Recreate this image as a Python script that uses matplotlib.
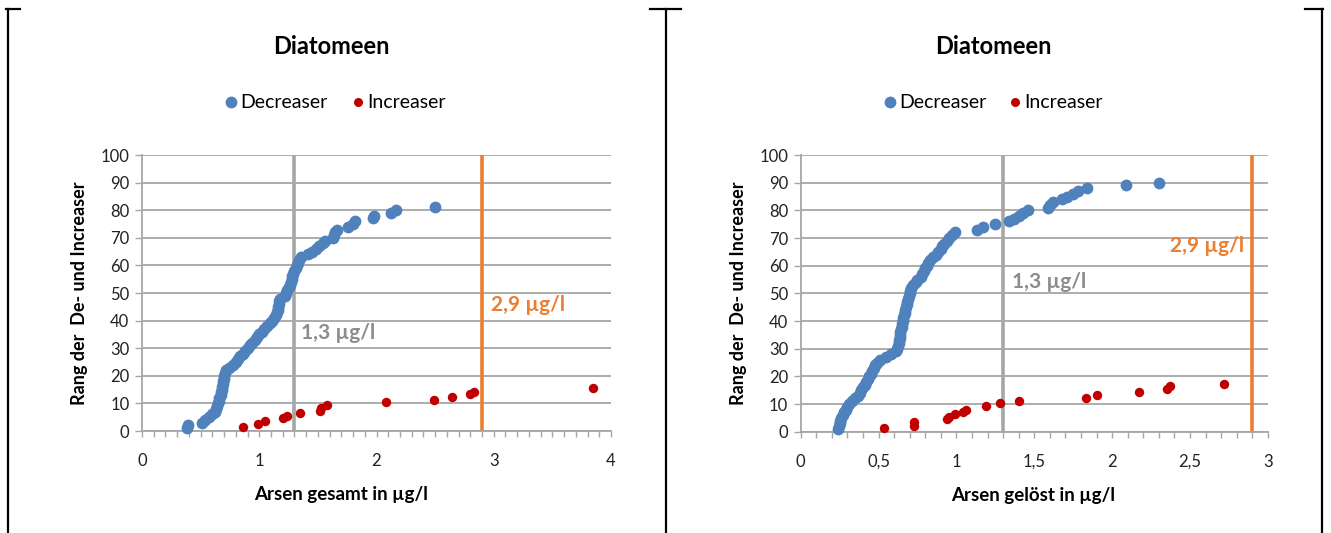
import matplotlib
matplotlib.use("Agg")
import matplotlib.pyplot as plt
import numpy as np
from matplotlib.ticker import MultipleLocator

plt.rcParams['font.family'] = ['Lato', 'DejaVu Sans']

# --- data: left panel (Arsen gesamt) ---
dec_total_x = [0.38, 0.39, 0.51, 0.54, 0.57, 0.60, 0.62, 0.63, 0.64, 0.65,
               0.66, 0.66, 0.67, 0.67, 0.68, 0.68, 0.69, 0.69, 0.70, 0.70,
               0.71, 0.72, 0.74, 0.78, 0.80, 0.82, 0.84, 0.86, 0.88, 0.90,
               0.92, 0.94, 0.96, 0.98, 1.00, 1.02, 1.04, 1.07, 1.09, 1.11,
               1.13, 1.14, 1.15, 1.16, 1.16, 1.17, 1.17, 1.18, 1.22, 1.23,
               1.24, 1.25, 1.26, 1.27, 1.28, 1.28, 1.29, 1.30, 1.31, 1.32,
               1.33, 1.34, 1.36, 1.42, 1.45, 1.48, 1.51, 1.54, 1.56, 1.63,
               1.64, 1.65, 1.66, 1.76, 1.80, 1.82, 1.97, 1.98, 2.12, 2.17,
               2.50]
dec_total_rank = list(range(1, len(dec_total_x) + 1))
inc_total_x = [0.86, 0.99, 1.05, 1.20, 1.24, 1.35, 1.52, 1.53, 1.58, 2.08,
               2.49, 2.64, 2.80, 2.83, 3.85]
inc_total_rank = [1.3, 2.4, 3.6, 4.6, 5.4, 6.4, 7.4, 8.4, 9.6, 10.5,
                  11.3, 12.3, 13.3, 14.2, 15.6]

# --- data: right panel (Arsen gelöst) ---
dec_diss_x = [0.24, 0.245, 0.25, 0.255, 0.26, 0.27, 0.28, 0.29, 0.30, 0.31,
              0.33, 0.35, 0.37, 0.38,
              0.39, 0.40, 0.41, 0.42, 0.43, 0.44, 0.45, 0.46, 0.47, 0.48, 0.49, 0.51,
              0.55, 0.58, 0.61,
              0.62, 0.625, 0.63, 0.63, 0.635, 0.64, 0.64, 0.645, 0.65, 0.65, 0.655, 0.66,
              0.665, 0.67, 0.67, 0.675, 0.68, 0.685, 0.69, 0.695, 0.70, 0.705, 0.71,
              0.72, 0.74, 0.75, 0.77, 0.78, 0.79, 0.80, 0.81, 0.82, 0.83,
              0.85, 0.87, 0.88, 0.90, 0.91, 0.92, 0.94,
              0.95, 0.97, 0.99,
              1.13, 1.17, 1.25, 1.34, 1.37, 1.40, 1.43, 1.46,
              1.59, 1.60, 1.62, 1.68, 1.71, 1.75, 1.78, 1.84, 2.09, 2.30]
dec_diss_rank = list(range(1, len(dec_diss_x) + 1))
inc_diss_x = [0.535, 0.727, 0.727, 0.94, 0.95, 0.99, 1.04, 1.06, 1.19, 1.28,
              1.40, 1.83, 1.90, 2.17, 2.35, 2.37, 2.72]
inc_diss_rank = [1.2, 2.2, 3.6, 4.6, 5.3, 6.3, 7.2, 8.0, 9.4, 10.5,
                 11.2, 12.3, 13.1, 14.2, 15.4, 16.5, 17.4]

total_ticks = [0, 1, 2, 3, 4]
total_ticklabels = ['0', '1', '2', '3', '4']
diss_ticks = [0, 0.5, 1, 1.5, 2, 2.5, 3]
diss_ticklabels = ['0', '0,5', '1', '1,5', '2', '2,5', '3']
rank_ticks = list(range(0, 101, 10))

BLUE = '#4F81BD'
RED = '#C00000'
ORANGE = '#ED7D31'
GRAY = '#A6A6A6'
W, H = 1331, 533


def px_axes(fig, x0, x1, y0, y1):
    return fig.add_axes([x0 / W, 1 - y1 / H, (x1 - x0) / W, (y1 - y0) / H])


def draw_panel(fig, ax, dec_x, dec_y, inc_x, inc_y, ticks, ticklabels, xmax,
               xlabel, xlabel_pos, label13, label29, center_px, legend_px):
    ax.set_xlim(0, xmax)
    ax.set_ylim(0, 100)
    ax.axvline(1.3, color=GRAY, lw=2.6, zorder=1)
    ax.axvline(2.9, color=ORANGE, lw=2.6, zorder=1)
    ax.scatter(dec_x, dec_y, s=72, color=BLUE, lw=0, zorder=3, clip_on=False)
    ax.scatter(inc_x, inc_y, s=46, color=RED, lw=0, zorder=4, clip_on=False)

    ax.set_xticks(ticks)
    ax.set_xticklabels(ticklabels)
    ax.xaxis.set_minor_locator(MultipleLocator(0.1))
    ax.set_yticks(rank_ticks)
    ax.grid(axis='y', color=GRAY, lw=1.3)
    ax.set_axisbelow(True)
    for s in ['top', 'right']:
        ax.spines[s].set_visible(False)
    for s in ['left', 'bottom']:
        ax.spines[s].set_color(GRAY)
        ax.spines[s].set_linewidth(1.3)
    ax.tick_params(axis='x', which='both', length=4, color=GRAY, width=1,
                   labelsize=12, pad=12, labelcolor='#222222')
    ax.tick_params(axis='y', length=5, color=GRAY, width=1, labelsize=12,
                   pad=4, labelcolor='#222222')

    ax.set_xlabel(xlabel, fontsize=13.5, fontweight='bold')
    ax.xaxis.set_label_coords(xlabel_pos, -0.2)
    ax.set_ylabel('Rang der  De- und Increaser', fontsize=13,
                  fontweight='bold', labelpad=9)

    ax.text(label13[0], label13[1], '1,3 µg/l', color='#8C8C8C',
            fontsize=15, fontweight='bold', va='center', ha='left')
    ax.text(label29[0], label29[1], '2,9 µg/l', color=ORANGE,
            fontsize=15, fontweight='bold', va='center', ha=label29[2])

    fig.text(center_px / W, 1 - 47 / H, 'Diatomeen', fontsize=17,
             fontweight='bold', ha='center', va='center')

    bx, rx = legend_px
    ly = 1 - 102 / H
    fig.lines.append(plt.Line2D([bx / W], [ly], marker='o', ms=8.5,
                                color=BLUE, mec='none', transform=fig.transFigure))
    fig.text((bx + 9) / W, ly, 'Decreaser', fontsize=14, va='center')
    fig.lines.append(plt.Line2D([rx / W], [ly], marker='o', ms=6.5,
                                color=RED, mec='none', transform=fig.transFigure))
    fig.text((rx + 9) / W, ly, 'Increaser', fontsize=14, va='center')


fig = plt.figure(figsize=(W / 100, H / 100), dpi=100)

ax1 = px_axes(fig, 142, 611, 155, 431)
draw_panel(fig, ax1, dec_total_x, dec_total_rank, inc_total_x, inc_total_rank,
           total_ticks, total_ticklabels, 4, 'Arsen gesamt in µg/l', 0.424,
           (1.36, 35.5), (2.98, 45.5, 'left'), 331, (231, 358))

ax2 = px_axes(fig, 800.7, 1267.8, 155, 431.7)
draw_panel(fig, ax2, dec_diss_x, dec_diss_rank, inc_diss_x, inc_diss_rank,
           diss_ticks, diss_ticklabels, 3, 'Arsen gelöst in µg/l', 0.497,
           (1.36, 54), (2.85, 67, 'right'), 993, (890, 1015))

# frame lines around the two panels
for xp in [8, 666, 1322]:
    fig.lines.append(plt.Line2D([xp / W, xp / W], [0, 1 - 9 / H], color='black',
                                lw=1.6, transform=fig.transFigure))
for x0, x1 in [(6, 20), (650, 681), (1305, 1323)]:
    fig.lines.append(plt.Line2D([x0 / W, x1 / W], [1 - 9 / H, 1 - 9 / H],
                                color='black', lw=1.6, transform=fig.transFigure))

fig.savefig('out.png', dpi=100)
